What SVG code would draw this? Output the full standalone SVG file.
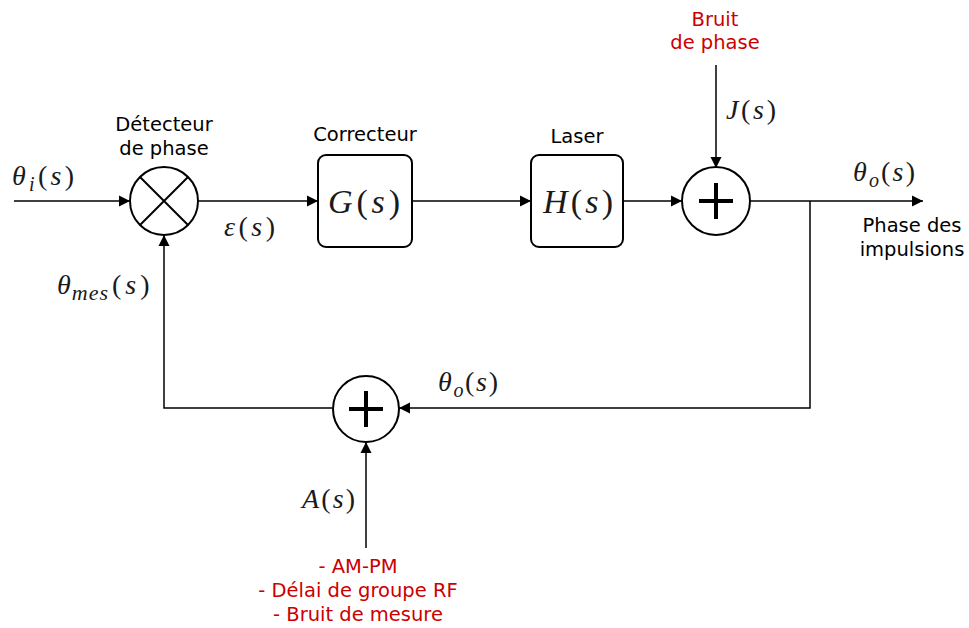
<svg xmlns="http://www.w3.org/2000/svg" width="969" height="628" viewBox="0 0 969 628">
<defs>
<marker id="arr" markerWidth="12" markerHeight="12" refX="11" refY="6" orient="auto" markerUnits="userSpaceOnUse">
<path d="M0,0.5 L11,6 L0,11.5 Z" fill="#000"/>
</marker>
</defs>
<style>
.ln{fill:none;stroke:#000;stroke-width:1.5}
.node{fill:#fff;stroke:#000;stroke-width:2}
.lbl{font-family:"DejaVu Sans",Verdana,sans-serif;font-size:19.5px;fill:#000;text-anchor:middle}
.red{fill:#cc0000}
.m{font-family:"Liberation Serif","Times New Roman",serif;font-size:28px;fill:#1a1a1a}
.i{font-style:italic}
.big{font-size:34px}
.sym{stroke:#000;stroke-width:4;fill:none}
</style>
<rect width="969" height="628" fill="#fff"/>
<g id="connectors">
<line class="ln" x1="14" y1="201" x2="130" y2="201" marker-end="url(#arr)"/>
<line class="ln" x1="198" y1="201" x2="318" y2="201" marker-end="url(#arr)"/>
<line class="ln" x1="412" y1="201" x2="531" y2="201" marker-end="url(#arr)"/>
<line class="ln" x1="623" y1="201" x2="682" y2="201" marker-end="url(#arr)"/>
<line class="ln" x1="750" y1="201" x2="923" y2="201" marker-end="url(#arr)"/>
<line class="ln" x1="716" y1="65" x2="716" y2="168" marker-end="url(#arr)"/>
<polyline class="ln" points="810,201 810,408 399,408" marker-end="url(#arr)"/>
<polyline class="ln" points="332,408 164,408 164,235" marker-end="url(#arr)"/>
<line class="ln" x1="366" y1="548" x2="366" y2="442" marker-end="url(#arr)"/>
</g>
<g id="detecteur">
<circle class="node" cx="164" cy="201" r="34"/>
<line x1="140" y1="177" x2="188" y2="225" stroke="#000" stroke-width="2"/>
<line x1="188" y1="177" x2="140" y2="225" stroke="#000" stroke-width="2"/>
<text class="lbl" x="164" y="131">Détecteur</text>
<text class="lbl" x="164" y="155">de phase</text>
</g>
<g id="correcteur">
<rect class="node" x="318" y="155" width="94" height="92" rx="8"/>
<text class="lbl" x="365" y="141">Correcteur</text>
<text class="m big" x="328" y="213" textLength="72" lengthAdjust="spacing"><tspan class="i">G</tspan>(<tspan class="i">s</tspan>)</text>
</g>
<g id="laser">
<rect class="node" x="531" y="155" width="92" height="92" rx="8"/>
<text class="lbl" x="577" y="143">Laser</text>
<text class="m big" x="543" y="213" textLength="70" lengthAdjust="spacing"><tspan class="i">H</tspan>(<tspan class="i">s</tspan>)</text>
</g>
<g id="somme1">
<circle class="node" cx="716" cy="201" r="34"/>
<path class="sym" d="M699,201 H733 M716,183 V219"/>
</g>
<g id="somme2">
<circle class="node" cx="366" cy="409" r="33"/>
<path class="sym" d="M349,409 H383 M366,391 V427"/>
</g>
<g id="labels">
<text class="m" x="12" y="185" textLength="62" lengthAdjust="spacing"><tspan class="i">θ</tspan><tspan class="i" font-size="20" dy="6">i</tspan><tspan dy="-6">(</tspan><tspan class="i">s</tspan>)</text>
<text class="m" x="224" y="236" textLength="51" lengthAdjust="spacing"><tspan class="i">ε</tspan>(<tspan class="i">s</tspan>)</text>
<text class="m" x="57" y="294" font-size="30"><tspan class="i">θ</tspan><tspan class="i" font-size="22" dx="1" dy="6">m</tspan><tspan class="i" font-size="22" dx="1">e</tspan><tspan class="i" font-size="22" dx="1">s</tspan><tspan dx="4" dy="-6">(</tspan><tspan class="i" dx="4">s</tspan><tspan dx="4">)</tspan></text>
<text class="m" x="726" y="119" textLength="50" lengthAdjust="spacing"><tspan class="i">J</tspan>(<tspan class="i">s</tspan>)</text>
<text class="m" x="853" y="181" textLength="62" lengthAdjust="spacing"><tspan class="i">θ</tspan><tspan class="i" font-size="20" dy="6">o</tspan><tspan dy="-6">(</tspan><tspan class="i">s</tspan>)</text>
<text class="m" x="438" y="391" textLength="60" lengthAdjust="spacing"><tspan class="i">θ</tspan><tspan class="i" font-size="20" dy="6">o</tspan><tspan dy="-6">(</tspan><tspan class="i">s</tspan>)</text>
<text class="m" x="302" y="508" textLength="53" lengthAdjust="spacing"><tspan class="i">A</tspan>(<tspan class="i">s</tspan>)</text>
<text class="lbl red" x="715" y="26">Bruit</text>
<text class="lbl red" x="715" y="49">de phase</text>
<text class="lbl" x="912" y="232">Phase des</text>
<text class="lbl" x="912" y="256">impulsions</text>
<text class="lbl red" x="358" y="573">- AM-PM</text>
<text class="lbl red" x="358" y="597">- Délai de groupe RF</text>
<text class="lbl red" x="358" y="621">- Bruit de mesure</text>
</g>
</svg>
